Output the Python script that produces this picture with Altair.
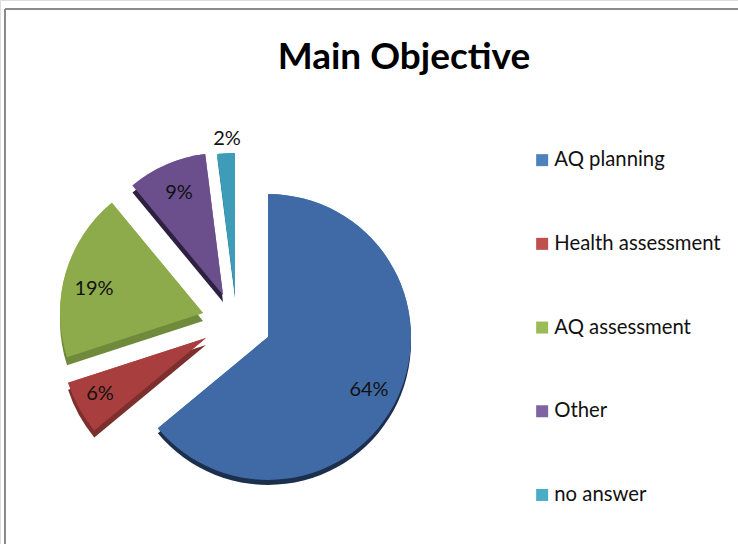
import math

import altair as alt
import pandas as pd

# Survey shares, in percent
categories = ["AQ planning", "Health assessment", "AQ assessment", "Other", "no answer"]
shares = [64, 6, 19, 9, 2]

# Legend swatches, slice faces and the darker slice sides
legend_colors = ["#4f81bd", "#c0504d", "#9bbb59", "#8064a2", "#4bacc6"]
face_colors = ["#3f6aa6", "#a83f3e", "#8dab4b", "#6b4f8d", "#3f9cb9"]
side_colors = ["#1c2f4d", "#7d2f2d", "#6f8a3a", "#2e2040", "#2a7c93"]

# Layout of the exploded pie, in pixels
PIE_CENTER = (240, 325)
SLICE_SHIFT = [(28, 12), (-34, 13), (-37, -12), (-17, -30), (-5, -30)]
SLICE_RADIUS = [143, 145, 143, 142, 142]
SIDE_DEPTH = [5, 7, 8, 7, 3]
LABEL_SHIFT = [(101, 53), (-106, 56), (-109, -24), (-44, -102), (-8, -156)]

rows = []
running = 0
for i, (name, share) in enumerate(zip(categories, shares)):
    start, end = running, running + share
    running = end
    cx = PIE_CENTER[0] + SLICE_SHIFT[i][0]
    cy = PIE_CENTER[1] + SLICE_SHIFT[i][1]
    rows.append(
        {
            "name": name,
            "share": share,
            "start": start,
            "end": end,
            "cx": cx,
            "cy": cy,
            "side_y": cy + SIDE_DEPTH[i],
            "radius": SLICE_RADIUS[i],
            "face": face_colors[i],
            "side": side_colors[i],
            "label": f"{share}%",
            "label_x": cx + LABEL_SHIFT[i][0],
            "label_y": cy + LABEL_SHIFT[i][1],
        }
    )
table = pd.DataFrame(rows)

FONT = "Lato"
theta_scale = alt.Scale(domain=[0, 100], range=[0, 2 * math.pi])


def slice_channels(y_field):
    return dict(
        x=alt.X("cx:Q", scale=None, axis=None),
        y=alt.Y(f"{y_field}:Q", scale=None, axis=None),
        theta=alt.Theta("start:Q", scale=theta_scale, stack=None),
        theta2=alt.Theta2("end:Q"),
        radius=alt.Radius("radius:Q", scale=None),
    )


# This layer carries the legend; the face layer paints over it
legend_layer = (
    alt.Chart(table)
    .mark_arc()
    .encode(
        fill=alt.Fill(
            "name:N",
            scale=alt.Scale(domain=categories, range=legend_colors),
            legend=alt.Legend(
                title=None,
                orient="none",
                legendX=532,
                legendY=150,
                symbolType="square",
                symbolSize=144,
                symbolStrokeWidth=0,
                symbolOpacity=1,
                labelFont=FONT,
                labelFontSize=20.3,
                labelColor="#111111",
                labelOffset=2,
                rowPadding=62.7,
                labelLimit=220,
            ),
        ),
        **slice_channels("cy"),
    )
)

sides = (
    alt.Chart(table)
    .mark_arc()
    .encode(color=alt.Color("side:N", scale=None, legend=None), **slice_channels("side_y"))
)

faces = (
    alt.Chart(table)
    .mark_arc()
    .encode(color=alt.Color("face:N", scale=None, legend=None), **slice_channels("cy"))
)

labels = (
    alt.Chart(table)
    .mark_text(font=FONT, fontSize=20, color="#111111")
    .encode(
        x=alt.X("label_x:Q", scale=None, axis=None),
        y=alt.Y("label_y:Q", scale=None, axis=None),
        text="label:N",
    )
)

frame_left = alt.Chart(table).mark_rule(color="#8a8a8a", strokeWidth=1.5).encode(
    x=alt.value(5), y=alt.value(9), y2=alt.value(544)
)
frame_top = alt.Chart(table).mark_rule(color="#8a8a8a", strokeWidth=1.5).encode(
    x=alt.value(5), x2=alt.value(738), y=alt.value(9)
)

title = (
    alt.Chart(pd.DataFrame({"text": ["Main Objective"]}))
    .mark_text(font=FONT, fontSize=37, fontWeight="bold", color="black")
    .encode(x=alt.value(404), y=alt.value(58), text="text:N")
)

chart = (
    alt.layer(frame_left, frame_top, legend_layer, sides, faces, labels, title)
    .resolve_scale(color="independent", fill="independent")
    .properties(width=738, height=544, padding=0, autosize=alt.AutoSizeParams(type="none"))
    .configure_view(stroke=None)
    .configure(background="white")
)

chart.save("out.html", embed_options={"renderer": "svg", "actions": False})
